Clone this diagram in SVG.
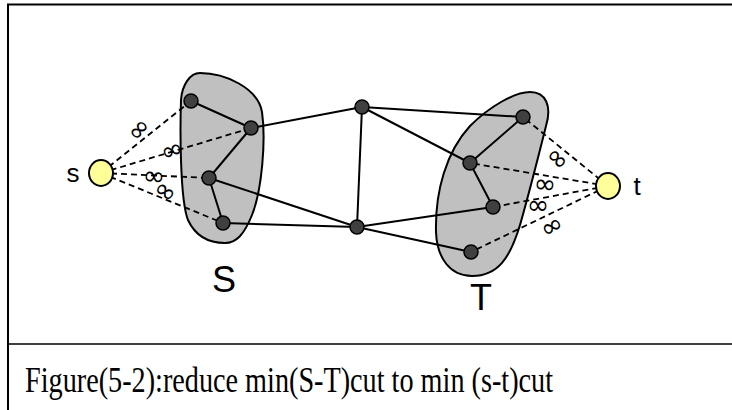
<svg xmlns="http://www.w3.org/2000/svg" width="732" height="410" viewBox="0 0 732 410">
<style>
.frame{stroke:#000;stroke-width:2;fill:none}
.blob{fill:#c0c0c0;stroke:#000;stroke-width:2}
.edge{stroke:#000;stroke-width:2;fill:none}
.dash{stroke:#000;stroke-width:1.8;stroke-dasharray:6 4;fill:none}
.node{fill:#404040;stroke:#000;stroke-width:1.5}
.term{fill:#ffff99;stroke:#000;stroke-width:2}
.lbl{font-family:"Liberation Sans","DejaVu Sans",sans-serif;fill:#000}
.inf{font-family:"DejaVu Sans",sans-serif;font-size:27px;fill:#000}
.cap{font-family:"Liberation Serif","Times New Roman",serif;font-size:35px;fill:#000}
</style>
<rect width="732" height="410" fill="#fff"/>
<g id="frame">
<line class="frame" x1="8" y1="4" x2="8" y2="410"/>
<line class="frame" x1="7" y1="4.5" x2="732" y2="4.5"/>
<line class="frame" x1="8" y1="344" x2="732" y2="344" style="stroke-width:1.6"/>
</g>
<g id="blob-S">
<path class="blob" d="M200,73 C225,73 258,88 262,112 C266,140 262,190 252,215 C244,235 236,243 225,243 C208,243 195,235 188,220 C180,200 180,130 181,100 C182,85 190,73 200,73 Z"/>
</g>
<g id="blob-T">
<path class="blob" d="M530,92 C546,92 552,106 546,126 C540,150 530,190 520,225 C510,258 498,276 472,276 C450,276 437,258 436,232 C435,192 446,152 470,126 C490,106 515,92 530,92 Z"/>
</g>
<g id="connectors">
<line class="edge" x1="191" y1="101" x2="251" y2="128"/>
<line class="edge" x1="251" y1="128" x2="209" y2="178"/>
<line class="edge" x1="209" y1="178" x2="223" y2="223"/>
<line class="edge" x1="251" y1="128" x2="362" y2="107"/>
<line class="edge" x1="209" y1="178" x2="357" y2="227"/>
<line class="edge" x1="223" y1="223" x2="357" y2="227"/>
<line class="edge" x1="362" y1="107" x2="357" y2="227"/>
<line class="edge" x1="362" y1="107" x2="523" y2="117"/>
<line class="edge" x1="362" y1="107" x2="470" y2="163"/>
<line class="edge" x1="357" y1="227" x2="493" y2="207"/>
<line class="edge" x1="357" y1="227" x2="471" y2="252"/>
<line class="edge" x1="523" y1="117" x2="470" y2="163"/>
<line class="edge" x1="470" y1="163" x2="493" y2="207"/>
<line class="dash" x1="101" y1="173" x2="191" y2="101"/>
<line class="dash" x1="101" y1="173" x2="251" y2="128"/>
<line class="dash" x1="101" y1="173" x2="209" y2="178"/>
<line class="dash" x1="101" y1="173" x2="223" y2="223"/>
<line class="dash" x1="608" y1="186" x2="523" y2="117"/>
<line class="dash" x1="608" y1="186" x2="470" y2="163"/>
<line class="dash" x1="608" y1="186" x2="493" y2="207"/>
<line class="dash" x1="608" y1="186" x2="471" y2="252"/>
<text class="inf" text-anchor="middle" y="8" transform="translate(139,130) rotate(-50)">∞</text>
<text class="inf" text-anchor="middle" y="8" transform="translate(172,151) rotate(-20)">∞</text>
<text class="inf" text-anchor="middle" y="8" transform="translate(154,177) rotate(5)">∞</text>
<text class="inf" text-anchor="middle" y="8" transform="translate(165,192) rotate(35)">∞</text>
<text class="inf" text-anchor="middle" y="8" transform="translate(557,159) rotate(45)">∞</text>
<text class="inf" text-anchor="middle" y="8" transform="translate(545,185) rotate(5)">∞</text>
<text class="inf" text-anchor="middle" y="8" transform="translate(538,206) rotate(0)">∞</text>
<text class="inf" text-anchor="middle" y="8" transform="translate(552,227) rotate(-30)">∞</text>
</g>
<g id="n1"><circle class="node" cx="191" cy="101" r="7"/></g>
<g id="n2"><circle class="node" cx="251" cy="128" r="7"/></g>
<g id="n3"><circle class="node" cx="209" cy="178" r="7"/></g>
<g id="n4"><circle class="node" cx="223" cy="223" r="7"/></g>
<g id="m1"><circle class="node" cx="362" cy="107" r="7"/></g>
<g id="m2"><circle class="node" cx="357" cy="227" r="7"/></g>
<g id="t1"><circle class="node" cx="523" cy="117" r="7"/></g>
<g id="t2"><circle class="node" cx="470" cy="163" r="7"/></g>
<g id="t3"><circle class="node" cx="493" cy="207" r="7"/></g>
<g id="t4"><circle class="node" cx="471" cy="252" r="7"/></g>
<g id="s"><ellipse class="term" cx="101" cy="173" rx="12" ry="13"/><text class="lbl" x="73" y="182" font-size="26" text-anchor="middle">s</text></g>
<g id="t"><ellipse class="term" cx="608" cy="186" rx="12" ry="13"/><text class="lbl" x="637" y="195" font-size="26" text-anchor="middle">t</text></g>
<g id="label-S"><text class="lbl" x="224" y="292" font-size="36" text-anchor="middle">S</text></g>
<g id="label-T"><text class="lbl" x="481" y="310" font-size="36" text-anchor="middle">T</text></g>
<g id="caption"><text class="cap" x="25" y="392" textLength="528" lengthAdjust="spacingAndGlyphs">Figure(5-2):reduce min(S-T)cut to min (s-t)cut</text></g>
</svg>
